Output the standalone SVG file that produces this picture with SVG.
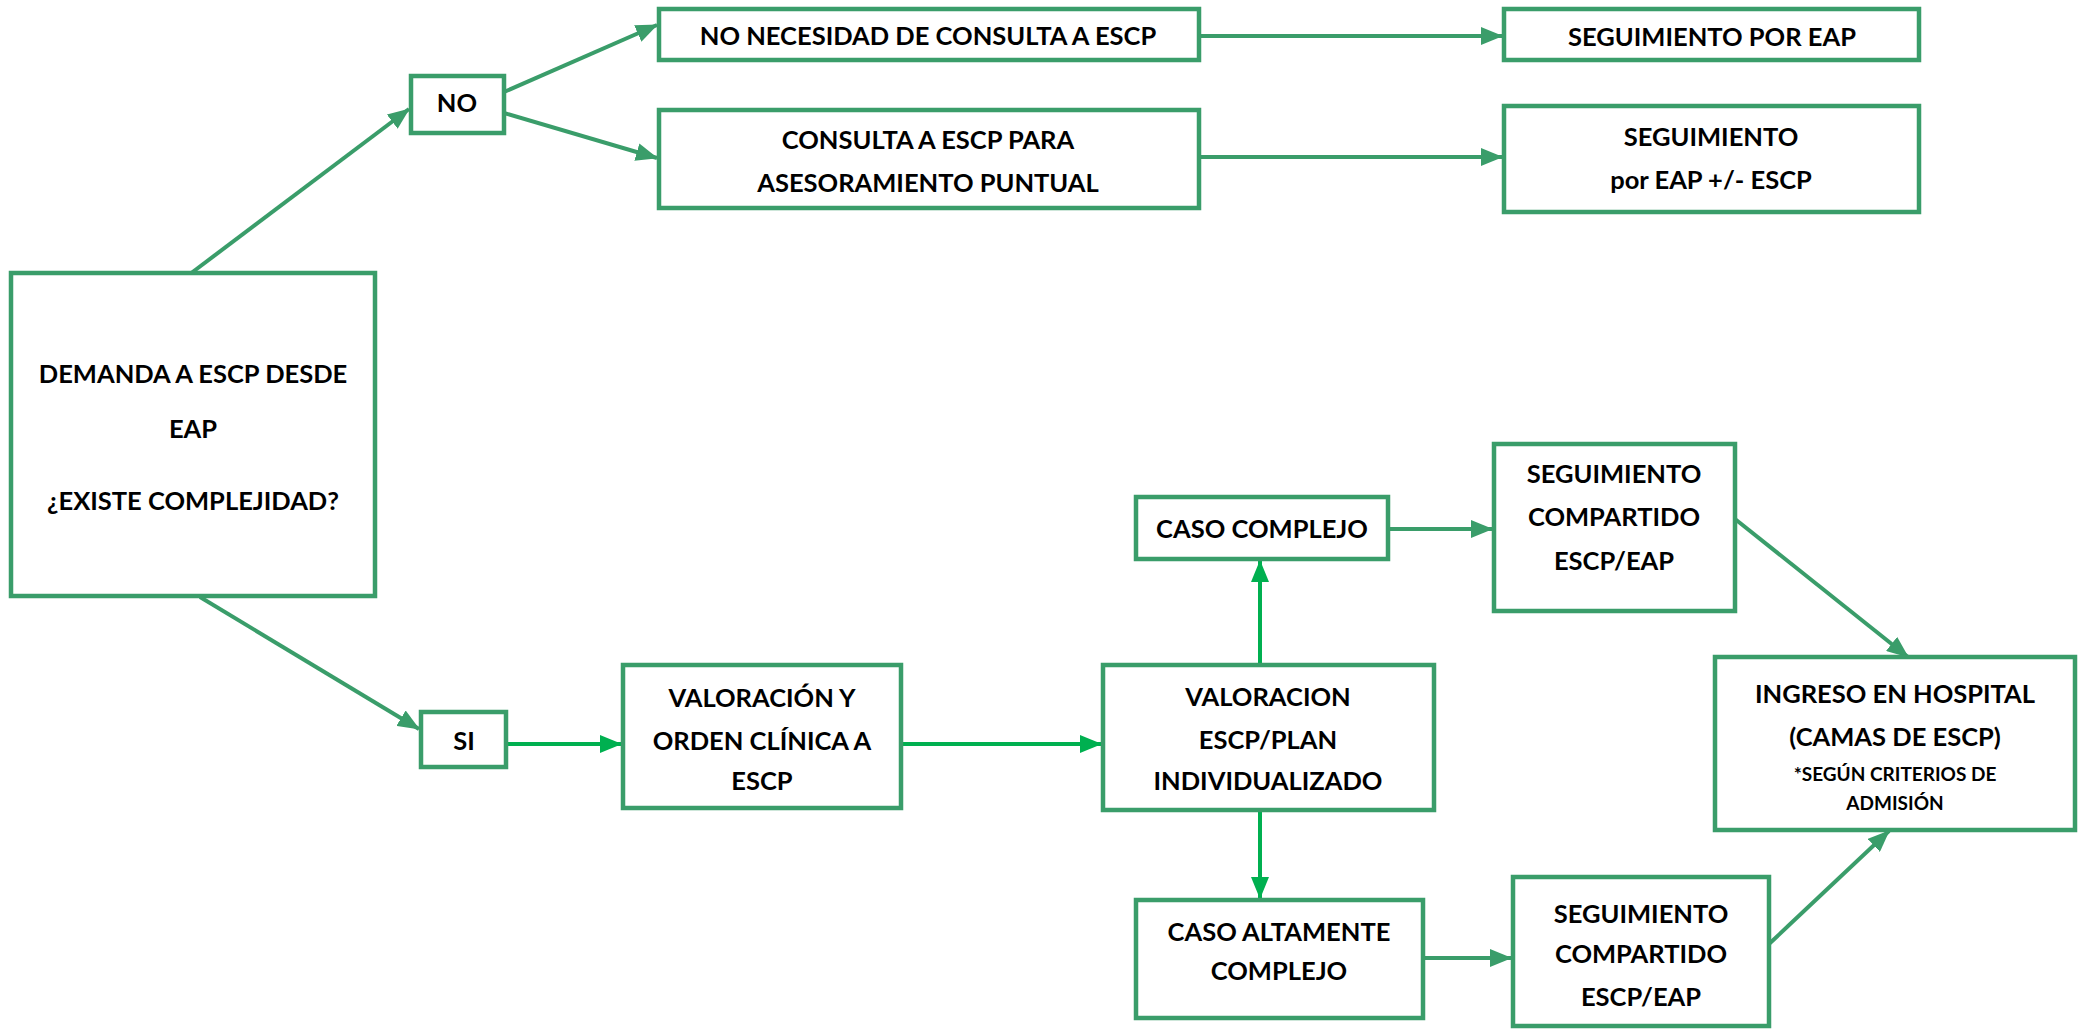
<svg xmlns="http://www.w3.org/2000/svg" width="2078" height="1030" viewBox="0 0 2078 1030">
<defs>
<style>
.box{fill:#fff;stroke:#3a9d6a;stroke-width:4.5}
.t{font-family:Lato,"Liberation Sans",sans-serif;font-weight:bold;font-size:25.5px;fill:#000;text-anchor:middle}
.s{font-size:19px}
.c1{fill:none;stroke:#3a9d6a;stroke-width:4}
.c2{fill:none;stroke:#00b050;stroke-width:4}
</style>
<marker id="a1" viewBox="0 0 22 18" refX="21" refY="9" markerWidth="22" markerHeight="18" markerUnits="userSpaceOnUse" orient="auto"><path d="M0,0 L22,9 L0,18 Z" fill="#3a9d6a"/></marker>
<marker id="a2" viewBox="0 0 22 18" refX="21" refY="9" markerWidth="22" markerHeight="18" markerUnits="userSpaceOnUse" orient="auto"><path d="M0,0 L22,9 L0,18 Z" fill="#00b050"/></marker>
</defs>
<rect width="2078" height="1030" fill="#fff"/>
<g id="connectors">
<line class="c1" x1="190" y1="274" x2="409" y2="109" marker-end="url(#a1)"/>
<line class="c1" x1="504" y1="92" x2="657" y2="25" marker-end="url(#a1)"/>
<line class="c1" x1="504" y1="113" x2="657" y2="158" marker-end="url(#a1)"/>
<line class="c1" x1="1199" y1="36" x2="1502" y2="36" marker-end="url(#a1)"/>
<line class="c1" x1="1199" y1="157" x2="1502" y2="157" marker-end="url(#a1)"/>
<line class="c1" x1="200" y1="597" x2="419" y2="729" marker-end="url(#a1)"/>
<line class="c2" x1="506" y1="744" x2="621" y2="744" marker-end="url(#a2)"/>
<line class="c2" x1="901" y1="744" x2="1101" y2="744" marker-end="url(#a2)"/>
<line class="c2" x1="1260" y1="665" x2="1260" y2="561" marker-end="url(#a2)"/>
<line class="c2" x1="1260" y1="810" x2="1260" y2="898" marker-end="url(#a2)"/>
<line class="c1" x1="1388" y1="529" x2="1492" y2="529" marker-end="url(#a1)"/>
<line class="c1" x1="1423" y1="958" x2="1511" y2="958" marker-end="url(#a1)"/>
<line class="c1" x1="1735" y1="519" x2="1908" y2="657" marker-end="url(#a1)"/>
<line class="c1" x1="1769" y1="944" x2="1889" y2="831" marker-end="url(#a1)"/>
</g>
<g id="demanda"><rect class="box" x="11" y="273" width="364" height="323"/>
<text class="t" x="193" y="383">DEMANDA A ESCP DESDE</text>
<text class="t" x="193" y="438">EAP</text>
<text class="t" x="193" y="510">¿EXISTE COMPLEJIDAD?</text></g>
<g id="no"><rect class="box" x="411" y="76" width="93" height="57"/>
<text class="t" x="457" y="112">NO</text></g>
<g id="no-necesidad"><rect class="box" x="659" y="9" width="540" height="51"/>
<text class="t" x="928" y="45">NO NECESIDAD DE CONSULTA A ESCP</text></g>
<g id="consulta"><rect class="box" x="659" y="110" width="540" height="98"/>
<text class="t" x="928" y="149">CONSULTA A ESCP PARA</text>
<text class="t" x="928" y="192">ASESORAMIENTO PUNTUAL</text></g>
<g id="seg-eap"><rect class="box" x="1504" y="9" width="415" height="51"/>
<text class="t" x="1712" y="46">SEGUIMIENTO POR EAP</text></g>
<g id="seg-eap-escp"><rect class="box" x="1504" y="106" width="415" height="106"/>
<text class="t" x="1711" y="146">SEGUIMIENTO</text>
<text class="t" x="1711" y="189">por EAP +/- ESCP</text></g>
<g id="si"><rect class="box" x="421" y="712" width="85" height="55"/>
<text class="t" x="464" y="750">SI</text></g>
<g id="valoracion-orden"><rect class="box" x="623" y="665" width="278" height="143"/>
<text class="t" x="762" y="707">VALORACIÓN Y</text>
<text class="t" x="762" y="750">ORDEN CLÍNICA A</text>
<text class="t" x="762" y="790">ESCP</text></g>
<g id="valoracion-plan"><rect class="box" x="1103" y="665" width="331" height="145"/>
<text class="t" x="1268" y="706">VALORACION</text>
<text class="t" x="1268" y="749">ESCP/PLAN</text>
<text class="t" x="1268" y="790">INDIVIDUALIZADO</text></g>
<g id="caso-complejo"><rect class="box" x="1136" y="497" width="252" height="62"/>
<text class="t" x="1262" y="538">CASO COMPLEJO</text></g>
<g id="seg-compartido-1"><rect class="box" x="1494" y="444" width="241" height="167"/>
<text class="t" x="1614" y="483">SEGUIMIENTO</text>
<text class="t" x="1614" y="526">COMPARTIDO</text>
<text class="t" x="1614" y="570">ESCP/EAP</text></g>
<g id="ingreso"><rect class="box" x="1715" y="657" width="360" height="173"/>
<text class="t" x="1895" y="703">INGRESO EN HOSPITAL</text>
<text class="t" x="1895" y="746">(CAMAS DE ESCP)</text>
<text class="t s" x="1895" y="781">*SEGÚN CRITERIOS DE</text>
<text class="t s" x="1895" y="810">ADMISIÓN</text></g>
<g id="caso-altamente"><rect class="box" x="1136" y="900" width="287" height="118"/>
<text class="t" x="1279" y="941">CASO ALTAMENTE</text>
<text class="t" x="1279" y="980">COMPLEJO</text></g>
<g id="seg-compartido-2"><rect class="box" x="1513" y="877" width="256" height="149"/>
<text class="t" x="1641" y="923">SEGUIMIENTO</text>
<text class="t" x="1641" y="963">COMPARTIDO</text>
<text class="t" x="1641" y="1006">ESCP/EAP</text></g>
</svg>
